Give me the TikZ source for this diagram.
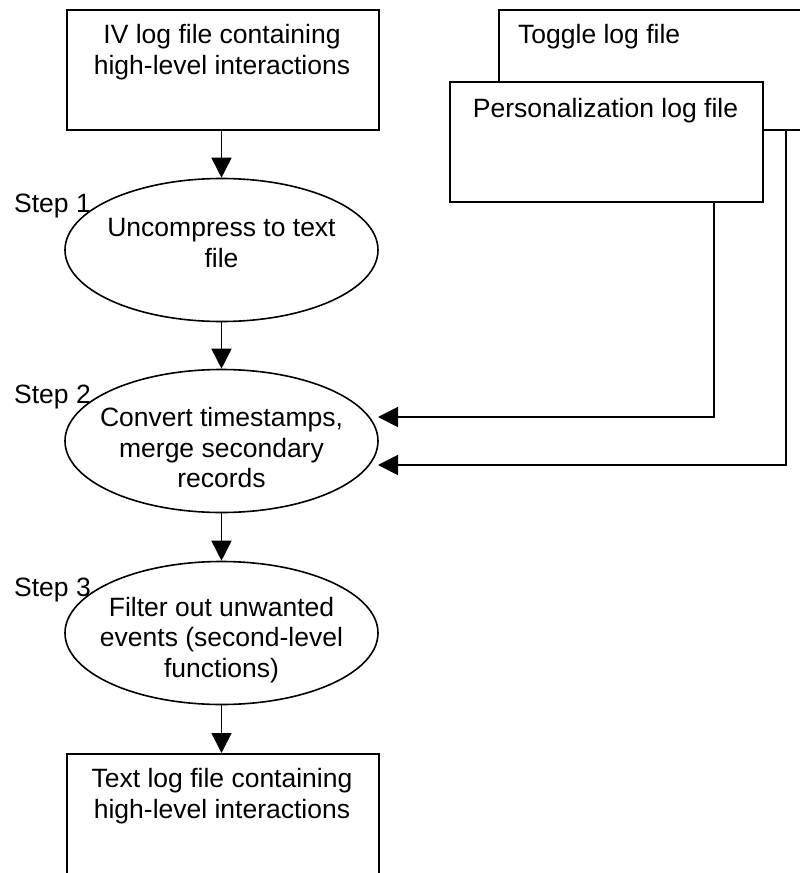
\documentclass[tikz,border=0pt]{standalone}
\usepackage{fontspec}
\setmainfont{Liberation Sans}
\usetikzlibrary{shapes.geometric,arrows.meta,calc}
\begin{document}
\begin{tikzpicture}[x=1pt,y=-1pt,
  every node/.style={font=\fontsize{26.5}{30.5}\selectfont},
  box/.style={draw, line width=1.8pt, fill=white, inner sep=0pt, anchor=north west},
  oval/.style={draw, ellipse, line width=1.6pt, inner sep=0pt, minimum width=313pt, minimum height=143pt},
  txt/.style={inner sep=0pt, align=center},
  arr/.style={line width=1.7pt, -{Triangle[length=20pt,width=20pt]}},
  ln/.style={line width=1.7pt}]
\useasboundingbox (0,0) rectangle (800,873);
% top-left box
\node[box, minimum width=312pt, minimum height=120pt] (iv) at (66,9) {};
\node[txt, anchor=base] (ivt) at (222,74) {IV log file containing\\high-level interactions};
% toggle and personalization boxes
\node[box, minimum width=330pt, minimum height=120pt] (tog) at (498,9) {};
\node[txt, anchor=base west] (togt) at (518,43) {Toggle log file};
\node[box, minimum width=313pt, minimum height=120pt] (pers) at (449,81) {};
\node[txt, anchor=base] (perst) at (605.5,117) {Personalization log file};
% ellipses
\node[oval] (e1) at (221.5,250) {};
\node[txt] (e1t) at (221.5,243) {Uncompress to text\\file};
\node[oval] (e2) at (221.5,441) {};
\node[txt] (e2t) at (221.5,448) {Convert timestamps,\\merge secondary\\records};
\node[oval] (e3) at (221.5,633) {};
\node[txt] (e3t) at (221.5,640) {Filter out unwanted\\events (second-level\\functions)};
% bottom box
\node[box, minimum width=312pt, minimum height=140pt] (out) at (66,753) {};
\node[txt, anchor=base] (outt) at (222,818) {Text log file containing\\high-level interactions};
% step labels
\node[txt, anchor=base west] (s1) at (14,212) {Step 1};
\node[txt, anchor=base west] (s2) at (14,403) {Step 2};
\node[txt, anchor=base west] (s3) at (14,596) {Step 3};
% main flow
\draw[arr] (iv.south -| e1.north) -- (e1.north);
\draw[arr] (e1.south) -- (e2.north);
\draw[arr] (e2.south) -- (e3.north);
\draw[arr] (e3.south) -- (out.north -| e3.south);
% side inputs
\coordinate (p1) at (714,417);
\coordinate (p2) at (786,465);
\coordinate (in1) at (378,417);
\coordinate (in2) at (378,465);
\draw[arr] (pers.south -| p1) -- (p1) -- (in1);
\draw[arr] (tog.south -| p2) -- (p2) -- (in2);
\end{tikzpicture}
\end{document}
